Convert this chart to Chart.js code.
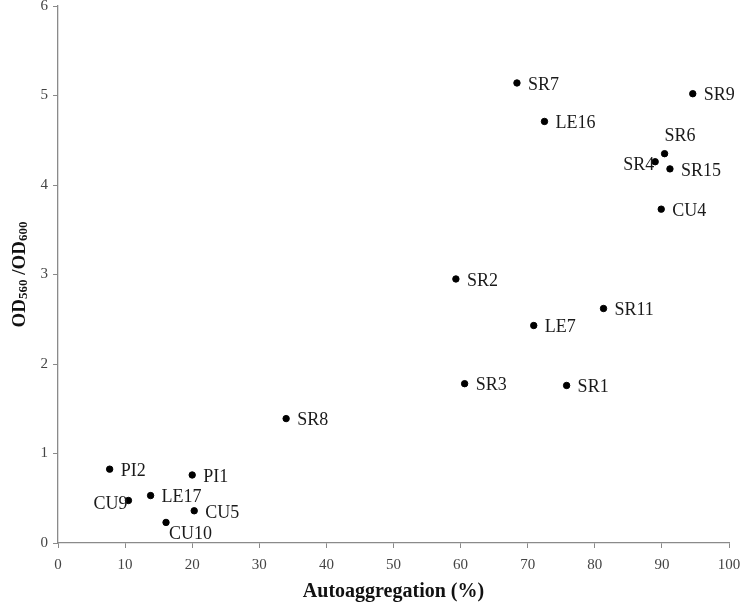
<!DOCTYPE html>
<html>
<head>
<meta charset="utf-8">
<script src="https://cdn.jsdelivr.net/npm/chart.js@4/dist/chart.umd.min.js"></script>
<style>
  html, body { margin: 0; padding: 0; background: #fff; }
  #wrap { width: 742px; height: 604px; position: relative; }
</style>
</head>
<body>
<div id="wrap"><canvas id="chart"></canvas></div>
<script>
// strain names and their measured values
const strains = ["SR7", "SR9", "LE16", "SR6", "SR4", "SR15", "CU4", "SR2", "SR11", "LE7",
  "SR3", "SR1", "SR8", "PI2", "PI1", "LE17", "CU9", "CU5", "CU10"];
const autoaggregation = [68.4, 94.6, 72.5, 90.4, 89.0, 91.2, 89.9, 59.3, 81.3, 70.9,
  60.6, 75.8, 34.0, 7.7, 20.0, 13.8, 10.5, 20.3, 16.1];
const odRatio = [5.14, 5.02, 4.71, 4.35, 4.26, 4.18, 3.73, 2.95, 2.62, 2.43,
  1.78, 1.76, 1.39, 0.825, 0.76, 0.53, 0.475, 0.36, 0.23];

const xTicks = [0, 10, 20, 30, 40, 50, 60, 70, 80, 90, 100];
const yTicks = [0, 1, 2, 3, 4, 5, 6];

// where a label sits relative to its point (default: right)
const labelPlacement = { SR6: "above", SR4: "left", CU9: "left", CU10: "below" };

const serif = "'Liberation Serif', 'Times New Roman', serif";
const axisGray = "#8a8a8a";

const pointLabels = {
  id: "pointLabels",
  afterDatasetsDraw(chart) {
    const ctx = chart.ctx;
    const meta = chart.getDatasetMeta(0);
    ctx.save();
    ctx.font = "18px " + serif;
    ctx.fillStyle = "#1a1a1a";
    ctx.textBaseline = "middle";
    meta.data.forEach((pt, i) => {
      const name = strains[i];
      const place = labelPlacement[name] || "right";
      if (place === "right") {
        ctx.textAlign = "left";
        ctx.fillText(name, pt.x + 11, pt.y + 2);
      } else if (place === "left") {
        ctx.textAlign = "right";
        ctx.fillText(name, pt.x - 1, pt.y + 4);
      } else if (place === "above") {
        ctx.textAlign = "left";
        ctx.fillText(name, pt.x, pt.y - 17);
      } else {
        ctx.textAlign = "left";
        ctx.fillText(name, pt.x + 3, pt.y + 12);
      }
    });
    ctx.restore();
  }
};

// y title with subscripts: OD560 /OD600
const yTitle = {
  id: "yTitle",
  afterDraw(chart) {
    const ctx = chart.ctx;
    const area = chart.chartArea;
    const parts = [["OD", 19, 0], ["560", 13, 4], [" /OD", 19, 0], ["600", 13, 4]];
    ctx.save();
    let total = 0;
    parts.forEach(p => { ctx.font = "bold " + p[1] + "px " + serif; total += ctx.measureText(p[0]).width; });
    ctx.translate(20, (area.top + area.bottom) / 2);
    ctx.rotate(-Math.PI / 2);
    ctx.fillStyle = "#111";
    ctx.textBaseline = "middle";
    ctx.textAlign = "left";
    let x = -total / 2;
    parts.forEach(p => {
      ctx.font = "bold " + p[1] + "px " + serif;
      ctx.fillText(p[0], x, p[2]);
      x += ctx.measureText(p[0]).width;
    });
    ctx.restore();
  }
};

new Chart(document.getElementById("chart"), {
  type: "scatter",
  data: {
    datasets: [{
      label: "strains",
      data: autoaggregation.map((v, i) => ({ x: v, y: odRatio[i] })),
      backgroundColor: "#000",
      borderColor: "#000",
      pointRadius: 3.2,
      pointHoverRadius: 3.2
    }]
  },
  options: {
    responsive: true,
    maintainAspectRatio: false,
    animation: false,
    layout: { padding: { top: 6, right: 13, left: 0, bottom: 0 } },
    plugins: { legend: { display: false }, tooltip: { enabled: false } },
    scales: {
      x: {
        type: "linear",
        min: 0, max: 100,
        afterBuildTicks: s => { s.ticks = xTicks.map(v => ({ value: v })); },
        afterFit: s => { s.height = 61; s.paddingLeft = 0; s.paddingRight = 0; },
        ticks: { color: "#444", font: { family: serif, size: 15 }, padding: 8 },
        grid: { drawOnChartArea: false, drawTicks: true, tickLength: 5, color: axisGray },
        border: { color: axisGray, width: 1.3 },
        title: {
          display: true, text: "Autoaggregation (%)", color: "#111",
          font: { family: serif, size: 20, weight: "bold" }, padding: { top: 4, bottom: 0 }
        }
      },
      y: {
        type: "linear",
        min: 0, max: 6,
        afterBuildTicks: s => { s.ticks = yTicks.map(v => ({ value: v })); },
        afterFit: s => { s.width = 58; s.paddingTop = 0; s.paddingBottom = 0; },
        ticks: { color: "#444", font: { family: serif, size: 15 }, padding: 5 },
        grid: { drawOnChartArea: false, drawTicks: true, tickLength: 5, color: axisGray },
        border: { color: axisGray, width: 1.3 }
      }
    }
  },
  plugins: [pointLabels, yTitle]
});
</script>
</body>
</html>
